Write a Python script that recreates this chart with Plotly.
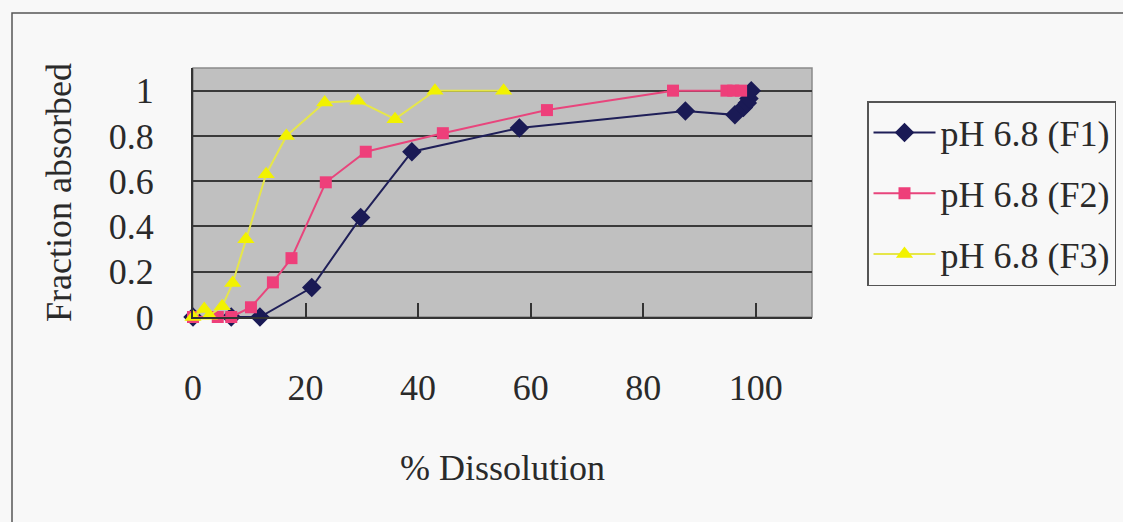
import plotly.graph_objects as go

# ---- data ----
f1_x = [0, 6.8, 11.9, 21.1, 29.8, 38.9, 58.0, 87.5, 96.3, 97.8, 98.5, 98.8, 99.2]
f1_y = [0, 0, 0, 0.13, 0.44, 0.73, 0.835, 0.91, 0.893, 0.925, 0.945, 0.965, 1.0]

f2_x = [0, 4.4, 6.8, 10.3, 14.2, 17.5, 23.6, 30.7, 44.4, 62.9, 85.3, 94.8, 96.0, 97.4]
f2_y = [0, 0, 0, 0.043, 0.153, 0.26, 0.595, 0.73, 0.812, 0.914, 1.0, 1.0, 1.0, 1.0]

f3_x = [0, 2.0, 2.9, 5.2, 7.05, 9.4, 13.0, 16.6, 23.4, 29.3, 35.9, 43.0, 55.2]
f3_y = [0, 0.035, 0.006, 0.047, 0.15, 0.344, 0.631, 0.80, 0.948, 0.955, 0.874, 1.0, 1.0]

series_names = ["pH 6.8 (F1)", "pH 6.8 (F2)", "pH 6.8 (F3)"]
x_ticks = [0, 20, 40, 60, 80, 100]
y_ticks = [0, 0.2, 0.4, 0.6, 0.8, 1]

FONT = "Liberation Serif, Times New Roman, serif"
TXT = "#2a2a2a"

fig = go.Figure()
fig.add_trace(go.Scatter(
    x=f1_x, y=f1_y, name=series_names[0], mode="lines+markers", legendgroup="a",
    line=dict(color="#1f1f58", width=2), cliponaxis=False,
    marker=dict(symbol="diamond", size=15, color="#1a1a55")))
fig.add_trace(go.Scatter(
    x=f2_x, y=f2_y, name=series_names[1], mode="lines+markers", legendgroup="b",
    line=dict(color="#e8457c", width=2), cliponaxis=False,
    marker=dict(symbol="square", size=12, color="#ee3f7a")))
fig.add_trace(go.Scatter(
    x=f3_x, y=f3_y, name=series_names[2], mode="lines+markers", legendgroup="c",
    line=dict(color="#e6e64a", width=2), cliponaxis=False,
    marker=dict(symbol="triangle-up", size=15, color="#f2f200")))

# plot area px: x 193..812, y 68..317
L, R, T, B = 193, 812, 68, 317
W, H = 1123, 522
pw, ph = R - L, B - T

def px2paper_x(px):
    return (px - L) / pw

def px2paper_y(py):
    return (B - py) / ph

# outer chart frame
fig.add_shape(type="rect", xref="paper", yref="paper",
              x0=px2paper_x(12), x1=px2paper_x(1135),
              y0=px2paper_y(540), y1=px2paper_y(13),
              line=dict(color="#555555", width=1.5), fillcolor="rgba(0,0,0,0)", layer="below")
# plot area frame
fig.add_shape(type="rect", xref="paper", yref="paper", x0=0, x1=1, y0=0, y1=1,
              line=dict(color="#8a8a8a", width=1.5), layer="below")

fig.update_layout(
    width=W, height=H,
    margin=dict(l=L, r=W - R, t=T, b=H - B, autoexpand=False),
    paper_bgcolor="#f8f8f8",
    plot_bgcolor="#c0c0c0",
    font=dict(family=FONT, size=36, color=TXT),
    showlegend=True,
    legend=dict(
        x=px2paper_x(867), y=px2paper_y(101), xanchor="left", yanchor="top",
        bgcolor="#f8f8f8", bordercolor="#555555", borderwidth=1.5,
        font=dict(family=FONT, size=36, color=TXT),
        traceorder="grouped", tracegroupgap=11, itemwidth=62,
    ),
    xaxis=dict(
        range=[0, 110], tickvals=x_ticks, ticktext=[str(v) for v in x_ticks],
        showgrid=False, zeroline=False,
        showline=True, linecolor="#333333", linewidth=2,
        ticks="inside", ticklen=14, tickwidth=1.5, tickcolor="#333333",
        ticklabelstandoff=38,
        tickfont=dict(family=FONT, size=36, color=TXT),
        title=dict(text="% Dissolution", font=dict(family=FONT, size=36, color=TXT), standoff=48),
        automargin=False,
    ),
    yaxis=dict(
        range=[0, 1.1], tickvals=y_ticks, ticktext=["0", "0.2", "0.4", "0.6", "0.8", "1"],
        showgrid=True, gridcolor="#3a3a3a", gridwidth=1.5,
        zeroline=False, showline=True, linecolor="#333333", linewidth=2,
        ticks="", ticklabelstandoff=30,
        tickfont=dict(family=FONT, size=36, color=TXT),
        title=dict(text="Fraction absorbed", font=dict(family=FONT, size=36, color=TXT), standoff=26),
        automargin=False,
    ),
)

fig.write_html("out.html")
